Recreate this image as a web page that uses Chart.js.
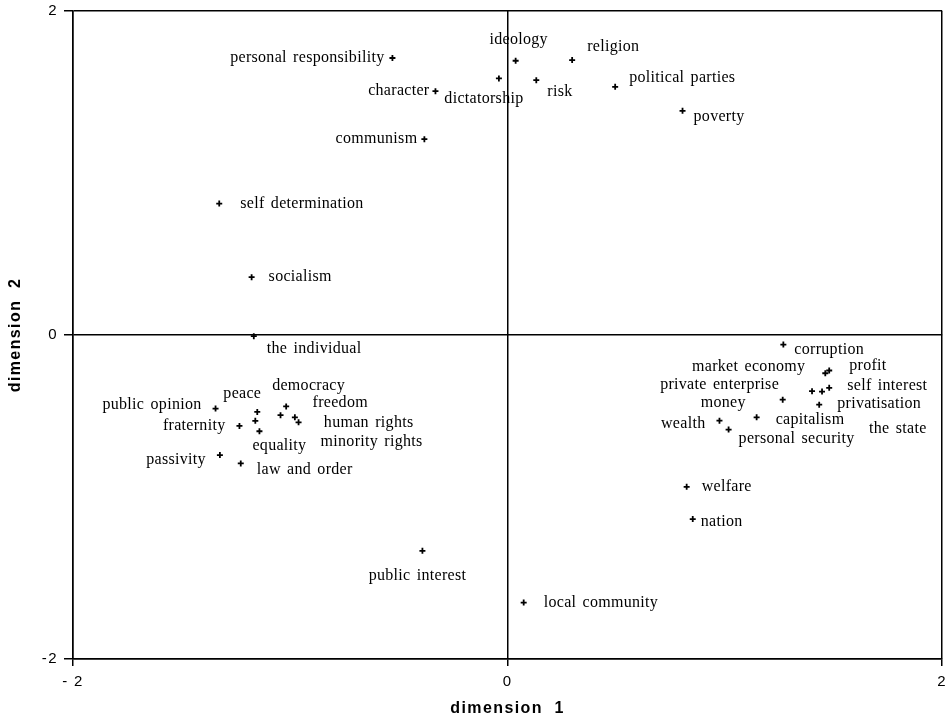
<!DOCTYPE html>
<html>
<head>
<meta charset="utf-8">
<script src="https://cdn.jsdelivr.net/npm/chart.js@4"></script>
<style>
  body { margin: 0; background: #fff; }
  canvas { display: block; }
</style>
</head>
<body>
<canvas id="mapChart" width="948" height="718"></canvas>
<script>
// === concepts and their coordinates ===
const concepts = [
  'personal responsibility', 'ideology', 'religion', 'dictatorship', 'character',
  'risk', 'political parties', 'poverty', 'communism', 'self determination',
  'socialism', 'the individual', 'public opinion', 'peace', 'democracy',
  'freedom', 'human rights', 'minority rights', 'fraternity', '',
  'equality', 'passivity', 'law and order', 'corruption', 'market economy',
  'profit', 'private enterprise', 'self interest', 'the state', 'money',
  'privatisation', 'wealth', 'personal security', 'capitalism', 'welfare',
  'nation', 'public interest', 'local community'
];
const dim1 = [
  -0.53, 0.037, 0.297, -0.04, -0.332,
  0.132, 0.495, 0.805, -0.383, -1.327,
  -1.178, -1.168, -1.344, -1.152, -1.019,
  -1.045, -0.979, -0.962, -1.234, -1.161,
  -1.142, -1.324, -1.228, 1.269, 1.462,
  1.48, 1.401, 1.48, 1.447, 1.266,
  1.434, 0.975, 1.017, 1.146, 0.824,
  0.852, -0.392, 0.074
];
const dim2 = [
  1.71, 1.693, 1.697, 1.584, 1.505,
  1.573, 1.532, 1.384, 1.209, 0.811,
  0.357, -0.007, -0.454, -0.475, -0.441,
  -0.495, -0.508, -0.539, -0.561, -0.53,
  -0.594, -0.741, -0.793, -0.059, -0.236,
  -0.219, -0.347, -0.326, -0.349, -0.399,
  -0.43, -0.529, -0.584, -0.508, -0.937,
  -1.136, -1.332, -1.652
];
const tickValues = [-2, 0, 2];
const xTickLabels = ['- 2', '0', '2'];
const yTickLabels = ['-2', '0', '2'];

// label placement next to each point (pixels), kept apart from the data
const labelPlace = [
  [-8, 0, 'right'], [3, -21, 'center'], [15, -13, 'left'], [-15, 20, 'center'], [-6, 0, 'right'],
  [11, 12, 'left'], [14, -9, 'left'], [11, 6, 'left'], [-7, 0, 'right'], [21, 0, 'left'],
  [17, 0, 'left'], [13, 13, 'left'], [-14, -4, 'right'], [4, -18, 'right'], [-14, -21, 'left'],
  [32, -12, 'left'], [29, 6, 'left'], [22, 19, 'left'], [-14, 0, 'right'], [0, 0, 'left'],
  [-7, 15, 'left'], [-14, 5, 'right'], [16, 6, 'left'], [11, 5, 'left'], [-20, -6, 'right'],
  [20, -5, 'left'], [-33, -6, 'right'], [18, -2, 'left'], [47, 37, 'left'], [-37, 3, 'right'],
  [18, -1, 'left'], [-14, 3, 'right'], [10, 9, 'left'], [19, 3, 'left'], [15, 0, 'left'],
  [8, 3, 'left'], [-5, 25, 'center'], [20, 0, 'left']
];

// wider spacing for the axis texts, then back to normal
const axisSpacing = {
  id: 'axisSpacing',
  beforeDraw(chart) { chart.ctx.letterSpacing = '1.4px'; },
  beforeDatasetsDraw(chart) { chart.ctx.letterSpacing = '0px'; }
};

const pointLabels = {
  id: 'pointLabels',
  afterDatasetsDraw(chart) {
    const ctx = chart.ctx;
    const meta = chart.getDatasetMeta(0);
    ctx.save();
    ctx.font = '16px "Liberation Serif"';
    ctx.letterSpacing = '0.3px';
    ctx.wordSpacing = '2px';
    ctx.fillStyle = '#000';
    ctx.textBaseline = 'middle';
    meta.data.forEach((pt, i) => {
      if (!concepts[i]) return;
      const [dx, dy, align] = labelPlace[i];
      ctx.textAlign = align;
      ctx.fillText(concepts[i], pt.x + dx, pt.y + dy);
    });
    ctx.restore();
  }
};

const axisLine = { color: '#000', lineWidth: 1.5 };
const tickFont = { family: '"Liberation Sans"', size: 15 };
const titleFont = { family: '"Liberation Sans"', size: 16, weight: 'bold' };

new Chart(document.getElementById('mapChart'), {
  type: 'scatter',
  data: {
    datasets: [{
      data: dim1.map((x, i) => ({ x: x, y: dim2[i] })),
      pointStyle: 'cross',
      pointRadius: 3,
      pointBorderWidth: 1.8,
      borderColor: '#000',
      backgroundColor: '#000'
    }]
  },
  options: {
    responsive: false,
    animation: false,
    layout: { padding: { top: 11, right: 5, left: 0, bottom: 0 } },
    plugins: { legend: { display: false }, tooltip: { enabled: false } },
    scales: {
      x: {
        type: 'linear', min: -2, max: 2,
        afterBuildTicks: s => { s.ticks = tickValues.map(v => ({ value: v })); },
        afterFit: s => { s.height = 59; s.paddingLeft = 0; s.paddingRight = 0; },
        ticks: {
          color: '#000', font: tickFont, padding: 7, maxRotation: 0,
          callback: v => xTickLabels[tickValues.indexOf(v)]
        },
        grid: { ...axisLine, tickLength: 7 },
        border: { display: true, color: '#000', width: 1.5 },
        title: { display: true, text: 'dimension  1', color: '#000', font: titleFont, padding: { top: 0, bottom: 0 } }
      },
      y: {
        type: 'linear', min: -2, max: 2,
        afterBuildTicks: s => { s.ticks = tickValues.map(v => ({ value: v })); },
        afterFit: s => { s.width = 73; s.paddingTop = 0; s.paddingBottom = 0; },
        ticks: {
          color: '#000', font: tickFont, padding: 6,
          callback: v => yTickLabels[tickValues.indexOf(v)]
        },
        grid: { ...axisLine, tickLength: 9 },
        border: { display: true, color: '#000', width: 1.5 },
        title: { display: true, text: 'dimension  2', color: '#000', font: titleFont, padding: { top: 6, bottom: 0 } }
      }
    }
  },
  plugins: [axisSpacing, pointLabels]
});
</script>
</body>
</html>
